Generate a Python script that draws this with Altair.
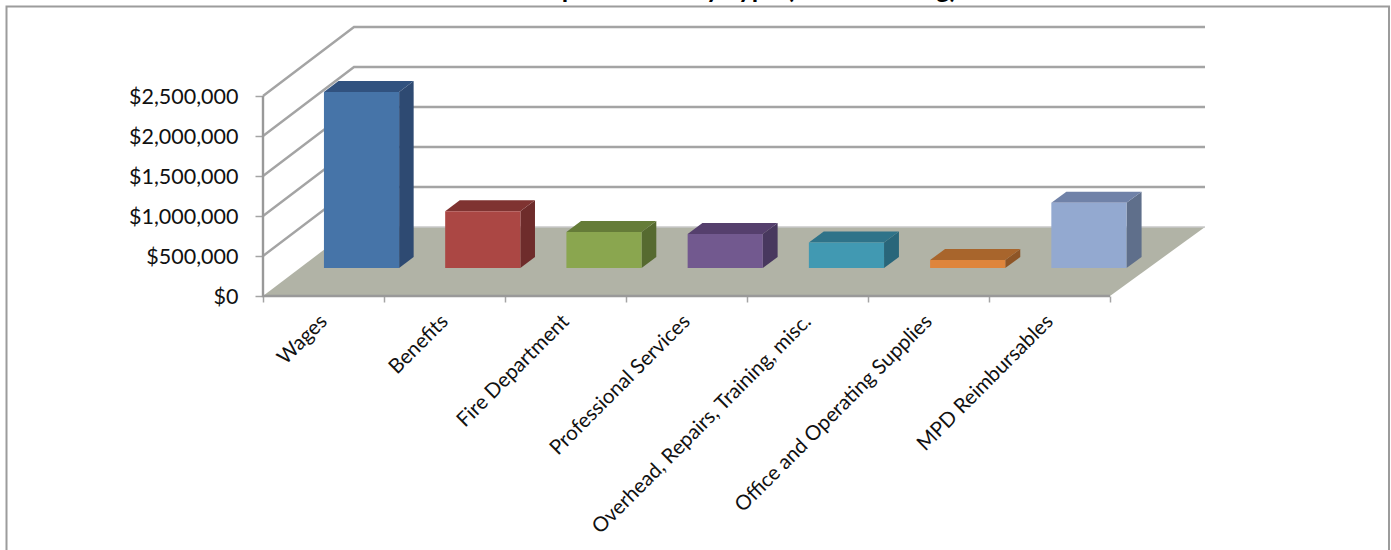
import json

import altair as alt
import pandas as pd

# Budget categories and their spending, in dollars
categories = [
    "Wages",
    "Benefits",
    "Fire Department",
    "Professional Services",
    "Overhead, Repairs, Training, misc.",
    "Office and Operating Supplies",
    "MPD Reimbursables",
]
amounts = [2200000, 710000, 450000, 425000, 320000, 100000, 815000]
value_ticks = [0, 500000, 1000000, 1500000, 2000000, 2500000]

front_colors = ["#4674A8", "#AB4744", "#8AA64F", "#72598F", "#4199B2", "#DE853C", "#93A9D0"]
side_colors = ["#2E4A72", "#6E2C2B", "#566A30", "#48385E", "#29667A", "#8E5526", "#5F6F8B"]
top_colors = ["#31527F", "#7F3331", "#657C38", "#553F6D", "#2F7389", "#A8652C", "#7082A8"]

TITLE_TEXT = "Expenditures by Type (Not Including)"
FONT = "Lato"
GRID = "#a4a4a4"

# Oblique projection: a point is (slot along the category axis, dollars, depth 0..1)
PX_PER_SLOT = 121
DOLLARS_PER_PX = 12500
DEPTH_SLOTS = 91 / PX_PER_SLOT
BACK_STRETCH = 0.57 / PX_PER_SLOT
DEPTH_DOLLARS = 69 * DOLLARS_PER_PX

# Placement of each column on its slot and in depth
COL_START, COL_END = 0.198, 0.818
DEPTH_FRONT, DEPTH_BACK = 0.406, 0.565

PLOT_W, PLOT_H = 942, 269
N = len(categories)


def px(slot, depth):
    return slot + depth * (DEPTH_SLOTS + slot * BACK_STRETCH)


def py(value, depth):
    return value + depth * DEPTH_DOLLARS


x_scale = alt.Scale(domain=[0, PLOT_W / PX_PER_SLOT], nice=False, zero=False)
y_scale = alt.Scale(domain=[0, PLOT_H * DOLLARS_PER_PX], nice=False, zero=False)

# Ticks and labels: the category names sit halfway between the slot boundaries
x_axis = alt.Axis(
    title=None,
    values=list(range(N + 1)),
    domain=False,
    grid=False,
    tickSize=6,
    tickWidth=1.5,
    tickColor=GRID,
    labelExpr=f"{json.dumps(categories)}[datum.value] || ''",
    labelAngle=-45,
    labelAlign="right",
    labelBaseline="middle",
    labelOffset=PX_PER_SLOT / 2,
    labelPadding=16,
    labelFont=FONT,
    labelFontSize=20.5,
    labelColor="#111111",
    labelLimit=0,
    labelOverlap=False,
    labelBound=False,
    labelFlush=False,
)
y_axis = alt.Axis(
    title=None,
    values=value_ticks,
    format="$,.0f",
    domain=False,
    grid=False,
    tickSize=8,
    tickWidth=1.5,
    tickColor=GRID,
    labelPadding=17,
    labelFont=FONT,
    labelFontSize=21.5,
    labelColor="#111111",
    labelOffset=1,
    labelOverlap=False,
    labelBound=False,
    labelFlush=False,
)


def color_enc(palette):
    return alt.Color(
        "category:N",
        scale=alt.Scale(domain=categories, range=palette),
        legend=None,
    )


def x_enc(field):
    return alt.X(field, type="quantitative", scale=x_scale, axis=x_axis)


def y_enc(field):
    return alt.Y(field, type="quantitative", scale=y_scale, axis=y_axis)


# Floor of the box
floor_df = pd.DataFrame(
    [
        {"y": py(0, d), "x0": px(0, d), "x1": px(N, d)}
        for d in (0, 1)
    ]
)
floor = alt.Chart(floor_df).mark_area(orient="horizontal", color="#B1B3A6").encode(
    y=y_enc("y"), x=x_enc("x0"), x2="x1"
)

# Gridlines: up the side wall, then across the back wall
grid_rows = []
for tick in value_ticks[1:]:
    grid_rows += [
        {"tick": tick, "step": 0, "x": px(0, 0), "y": py(tick, 0)},
        {"tick": tick, "step": 1, "x": px(0, 1), "y": py(tick, 1)},
        {"tick": tick, "step": 2, "x": px(N, 1), "y": py(tick, 1)},
    ]
grid = alt.Chart(pd.DataFrame(grid_rows)).mark_line(
    color=GRID, strokeWidth=2.4, strokeJoin="miter"
).encode(
    x=x_enc("x"), y=y_enc("y"), detail="tick:Q", order=alt.Order("step:Q")
)

floor_back = alt.Chart(
    pd.DataFrame({"x0": [px(0, 1)], "x1": [px(N, 1)], "y": [py(0, 1)]})
).mark_rule(color="#c9c9c9", strokeWidth=1.6).encode(
    x=x_enc("x0"), x2="x1", y=y_enc("y")
)

# Columns: front face, right-hand side and top, all through the same projection
front_rows, side_rows, top_rows = [], [], []
for i, (category, amount) in enumerate(zip(categories, amounts)):
    start, end = i + COL_START, i + COL_END
    front_rows.append(
        {
            "category": category,
            "x0": px(start, DEPTH_FRONT),
            "x1": px(end, DEPTH_FRONT),
            "y0": py(0, DEPTH_FRONT),
            "y1": py(amount, DEPTH_FRONT),
        }
    )
    for d in (DEPTH_FRONT, DEPTH_BACK):
        side_rows.append(
            {"category": category, "x": px(end, d), "y0": py(0, d), "y1": py(amount, d)}
        )
        top_rows.append(
            {"category": category, "y": py(amount, d), "x0": px(start, d), "x1": px(end, d)}
        )

fronts = alt.Chart(pd.DataFrame(front_rows)).mark_rect().encode(
    x=x_enc("x0"), x2="x1", y=y_enc("y0"), y2="y1", color=color_enc(front_colors)
)
sides = alt.Chart(pd.DataFrame(side_rows)).mark_area().encode(
    x=x_enc("x"), y=y_enc("y0"), y2="y1", color=color_enc(side_colors)
)
tops = alt.Chart(pd.DataFrame(top_rows)).mark_area(orient="horizontal").encode(
    y=y_enc("y"), x=x_enc("x0"), x2="x1", color=color_enc(top_colors)
)

# Vertical value axis line joined to the floor's front edge, drawn last so nothing covers it
axis_rows = [
    {"step": 0, "x": 0, "y": value_ticks[-1]},
    {"step": 1, "x": 0, "y": value_ticks[0]},
    {"step": 2, "x": N, "y": value_ticks[0]},
]
axis_lines = alt.Chart(pd.DataFrame(axis_rows)).mark_line(
    color="#999999", strokeWidth=2.4, strokeJoin="miter"
).encode(
    x=x_enc("x"), y=y_enc("y"), order=alt.Order("step:Q")
)

# Outer frame; its bottom edge runs past the page
frame = alt.Chart(pd.DataFrame({"k": [0]})).mark_rect(
    fillOpacity=0, stroke="#9c9c9c", strokeWidth=2
).encode(
    x=alt.value(-256.5),
    x2=alt.value(1126),
    y=alt.value(-20.5),
    y2=alt.value(600),
)

# Heading, cut by the top of the page so that only its descenders show
heading = alt.Chart(pd.DataFrame({"text": [TITLE_TEXT]})).mark_text(
    font=FONT,
    fontSize=26,
    fontWeight="bold",
    color="#000000",
    align="center",
    baseline="alphabetic",
).encode(
    x=alt.value(482),
    y=alt.value(-29),
    text="text:N",
)

chart = (
    alt.layer(frame, heading, floor, grid, floor_back, sides, tops, fronts, axis_lines)
    .resolve_scale(color="independent")
    .properties(
        width=PLOT_W,
        height=PLOT_H,
        padding={"left": 263, "top": 27, "right": 186, "bottom": 254},
        autosize=alt.AutoSizeParams(type="none"),
        background="white",
    )
    .configure_view(stroke=None)
)

chart.save("out.html", embed_options={"renderer": "svg", "actions": False})
